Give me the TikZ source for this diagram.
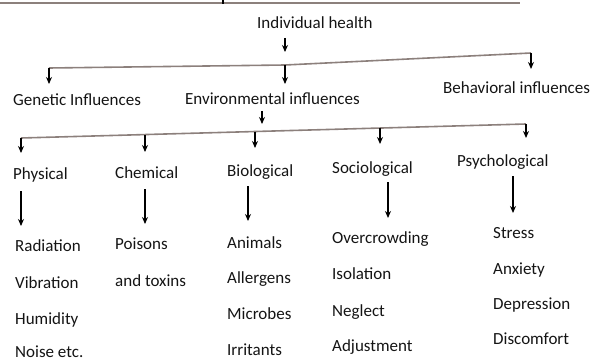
\documentclass[tikz,border=0pt]{standalone}
\usepackage{fontspec}
\setmainfont{Carlito}
\usetikzlibrary{arrows.meta}
\definecolor{linec}{RGB}{140,128,124}
\definecolor{txt}{RGB}{20,20,20}
\tikzset{
  lbl/.style={anchor=base west, inner sep=0pt, text=txt, font=\fontsize{17}{19}\selectfont},
  arr/.style={draw=black, line width=1.5pt, -{Stealth[length=7pt,width=6pt]}},
  bar/.style={draw=linec, line width=1.6pt},
}
\begin{document}
\begin{tikzpicture}[x=1pt,y=-1pt]
\useasboundingbox (0,0) rectangle (603,361);
% fragment of the diagram above
\coordinate (t0) at (0,3);
\coordinate (t1) at (520,3);
\coordinate (tk) at (223,0);
\coordinate (tkb) at (223,4);
\draw[bar] (t0) -- (t1);
\draw[draw=black, line width=2.5pt] (tk) -- (tkb);

% level 0
\node[lbl] (ih) at (257,29) {Individual health};
\coordinate (ihs) at (285,38);
\coordinate (j1) at (285,65);
\coordinate (j1m) at (285,52);
\draw[arr] (ihs) -- (j1m);

% first bar
\coordinate (b1l) at (49,68);
\coordinate (b1r) at (531,53);
\draw[bar] (b1l) -- (j1) -- (b1r);

\node[lbl] (gen) at (13,106) {Genetic Influences};
\node[lbl] (env) at (185,104) {Environmental influences};
\node[lbl] (beh) at (443,94) {Behavioral influences};

\coordinate (gent) at (49,84);
\coordinate (envt) at (285,84);
\coordinate (beht) at (531,69);
\draw[arr] (b1l) -- (gent);
\draw[arr] (j1) -- (envt);
\draw[arr] (b1r) -- (beht);

% second level
\coordinate (envs) at (262,111);
\coordinate (j2) at (262,131);
\coordinate (j2m) at (262,124);
\draw[arr] (envs) -- (j2m);

\coordinate (b2l) at (21,138);
\coordinate (b2c) at (145,135);
\coordinate (b2b) at (255,131.5);
\coordinate (b2s) at (380,128);
\coordinate (b2r) at (526,124);
\draw[bar] (b2l) -- (b2r);

\node[lbl] (phy) at (13,179) {Physical};
\node[lbl] (che) at (115,178) {Chemical};
\node[lbl] (bio) at (227,176) {Biological};
\node[lbl] (soc) at (332,173) {Sociological};
\node[lbl] (psy) at (457,166) {Psychological};

\coordinate (phyt) at (21,153);
\coordinate (chet) at (145,152);
\coordinate (biot) at (255,148);
\coordinate (soct) at (380,144);
\coordinate (psyt) at (526,138);
\draw[arr] (b2l) -- (phyt);
\draw[arr] (b2c) -- (chet);
\draw[arr] (b2b) -- (biot);
\draw[arr] (b2s) -- (soct);
\draw[arr] (b2r) -- (psyt);

% long arrows
\coordinate (phya) at (21,191);
\coordinate (phyb) at (21,226);
\coordinate (chea) at (145,189);
\coordinate (cheb) at (145,224);
\coordinate (bioa) at (248,186);
\coordinate (biob) at (248,221);
\coordinate (soca) at (388,182);
\coordinate (socb) at (388,218);
\coordinate (psya) at (513,176);
\coordinate (psyb) at (513,213);
\draw[arr] (phya) -- (phyb);
\draw[arr] (chea) -- (cheb);
\draw[arr] (bioa) -- (biob);
\draw[arr] (soca) -- (socb);
\draw[arr] (psya) -- (psyb);

% items
\node[lbl] (p1) at (15,251) {Radiation};
\node[lbl] (p2) at (15,288) {Vibration};
\node[lbl] (p3) at (15,324) {Humidity};
\node[lbl] (p4) at (15,357) {Noise etc.};

\node[lbl] (c1) at (115,249) {Poisons};
\node[lbl] (c2) at (115,286) {and toxins};

\node[lbl] (i1) at (227,248) {Animals};
\node[lbl] (i2) at (227,283) {Allergens};
\node[lbl] (i3) at (227,319) {Microbes};
\node[lbl] (i4) at (227,355) {Irritants};

\node[lbl] (s1) at (332,243) {Overcrowding};
\node[lbl] (s2) at (332,279) {Isolation};
\node[lbl] (s3) at (332,316) {Neglect};
\node[lbl] (s4) at (332,351) {Adjustment};

\node[lbl] (q1) at (493,238) {Stress};
\node[lbl] (q2) at (493,274) {Anxiety};
\node[lbl] (q3) at (493,309) {Depression};
\node[lbl] (q4) at (493,344) {Discomfort};
\end{tikzpicture}
\end{document}
